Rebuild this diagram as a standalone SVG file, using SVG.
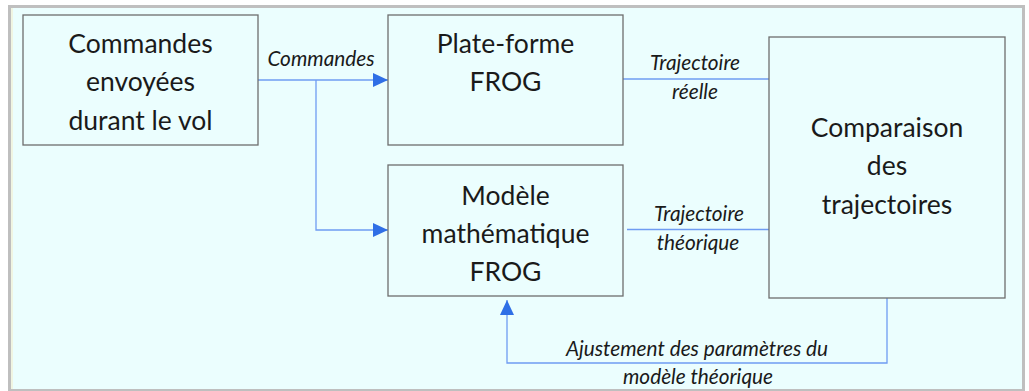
<svg xmlns="http://www.w3.org/2000/svg" width="1029" height="391" viewBox="0 0 1029 391">
  <defs>
    <style>
      .box { fill: #EBFEFE; stroke: #6E6E6E; stroke-width: 1.3; }
      .t { font-family: Lato, "Open Sans", sans-serif; font-size: 26.5px; fill: #1A1A1A; text-anchor: middle; }
      .lbl { font-family: Lato, "Open Sans", sans-serif; font-style: italic; font-size: 20.8px; fill: #1A1A1A; text-anchor: middle; }
      .wire { fill: none; stroke: #6F9CF2; stroke-width: 1.3; }
    </style>
    <marker id="arr" viewBox="0 0 15 14" refX="15" refY="7" markerWidth="15" markerHeight="14" markerUnits="userSpaceOnUse" orient="auto">
      <path d="M0,0 L15,7 L0,14 Z" fill="#2F6FE6"/>
    </marker>
  </defs>
  <rect x="0" y="0" width="1029" height="391" fill="#FFFFFF"/>
  <rect x="9.5" y="6.5" width="1014" height="384" fill="#EBFEFE" stroke="#BFBFBF" stroke-width="3"/>
  <line x1="12" y1="8" x2="12" y2="389" stroke="#F2F2D8" stroke-width="1.5"/>

  <g id="connectors">
    <path class="wire" d="M258,80 H388" marker-end="url(#arr)"/>
    <path class="wire" d="M316,80 V230 H388" marker-end="url(#arr)"/>
    <path class="wire" d="M623,79 H769"/>
    <path class="wire" d="M627,229.5 H769"/>
    <path class="wire" d="M887,298 V363 H507 V300" marker-end="url(#arr)"/>
    <text class="lbl" x="321" y="66">Commandes</text>
    <text class="lbl" x="695" y="70">Trajectoire</text>
    <text class="lbl" x="695" y="99">réelle</text>
    <text class="lbl" x="699" y="221">Trajectoire</text>
    <text class="lbl" x="698" y="250">théorique</text>
    <text class="lbl" x="697" y="356">Ajustement des paramètres du</text>
    <text class="lbl" x="698" y="384">modèle théorique</text>
  </g>

  <g id="commandes">
    <rect class="box" x="23" y="15" width="235" height="130"/>
    <text class="t" x="140.5" y="53">Commandes</text>
    <text class="t" x="140.5" y="91">envoyées</text>
    <text class="t" x="140.5" y="130">durant le vol</text>
  </g>
  <g id="plateforme">
    <rect class="box" x="388" y="15" width="235" height="130"/>
    <text class="t" x="505.5" y="53">Plate-forme</text>
    <text class="t" x="505.5" y="91">FROG</text>
  </g>
  <g id="modele">
    <rect class="box" x="388" y="165" width="235" height="131"/>
    <text class="t" x="505.5" y="205">Modèle</text>
    <text class="t" x="505.5" y="243">mathématique</text>
    <text class="t" x="505.5" y="281">FROG</text>
  </g>
  <g id="comparaison">
    <rect class="box" x="769" y="37" width="236" height="261"/>
    <text class="t" x="887" y="137">Comparaison</text>
    <text class="t" x="887" y="175">des</text>
    <text class="t" x="887" y="214">trajectoires</text>
  </g>
</svg>
